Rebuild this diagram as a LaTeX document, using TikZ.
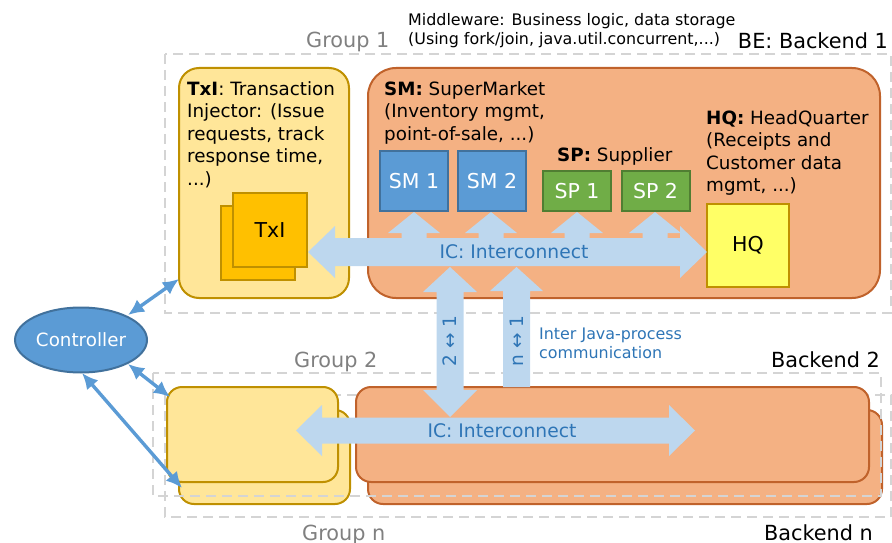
\documentclass[tikz,border=0pt]{standalone}
\usepackage{fontspec}
\setmainfont{DejaVu Sans}
\usetikzlibrary{arrows.meta,shapes.geometric}

\definecolor{orangeF}{HTML}{F4B183}
\definecolor{orangeD}{HTML}{C0622B}
\definecolor{yellowF}{HTML}{FFE699}
\definecolor{yellowD}{HTML}{BF9000}
\definecolor{goldF}{HTML}{FFC000}
\definecolor{blueF}{HTML}{5B9BD5}
\definecolor{blueD}{HTML}{41719C}
\definecolor{greenF}{HTML}{70AD47}
\definecolor{greenD}{HTML}{507E32}
\definecolor{hqF}{HTML}{FFFF66}
\definecolor{icF}{HTML}{BDD7EE}
\definecolor{icT}{HTML}{2E75B6}
\definecolor{dashC}{HTML}{D4D4D4}
\definecolor{grpT}{HTML}{808080}

\newcommand\fsdesc{\fontsize{18.3}{22.5}\selectfont}
\newcommand\fslabel{\fontsize{20.5}{24}\selectfont}
\newcommand\fsbig{\fontsize{20.8}{24}\selectfont}
\newcommand\fsic{\fontsize{18.7}{22}\selectfont}
\newcommand\fssmall{\fontsize{15.9}{19}\selectfont}

\begin{document}
\begin{tikzpicture}[x=1pt,y=-1pt,
  groupbox/.style={draw=dashC,line width=2.2pt,dash pattern=on 10pt off 6pt},
  bebox/.style={draw=orangeD,fill=orangeF,line width=2pt,rounded corners=28pt},
  txibox/.style={draw=yellowD,fill=yellowF,line width=2pt,rounded corners=20pt},
  bebox2/.style={draw=orangeD,fill=orangeF,line width=2pt,rounded corners=15pt},
  txibox2/.style={draw=yellowD,fill=yellowF,line width=2pt,rounded corners=15pt},
  txisq/.style={draw=yellowD,fill=goldF,line width=2pt,minimum width=74,minimum height=74,inner sep=0},
  smbox/.style={draw=blueD,fill=blueF,line width=2pt,minimum width=68,minimum height=60,inner sep=0,text=white,font=\fslabel},
  spbox/.style={draw=greenD,fill=greenF,line width=2pt,minimum width=68,minimum height=40,inner sep=0,text=white,font=\fslabel},
  hqbox/.style={draw=yellowD,fill=hqF,line width=2pt,minimum width=82,minimum height=83,inner sep=0,font=\fslabel},
  desc/.style={font=\fsdesc,align=left,anchor=base west,inner sep=0},
  grouplbl/.style={font=\fsbig,text=grpT,anchor=base west,inner sep=0},
  belbl/.style={font=\fsbig,anchor=base east,inner sep=0},
  icarrow/.style={fill=icF},
  iclbl/.style={font=\fsic,text=icT,inner sep=0},
  ctrlarrow/.style={draw=blueF,line width=3.4pt,{Latex[length=16pt,width=15pt]}-{Latex[length=16pt,width=15pt]}}
]
\useasboundingbox (0,0) rectangle (892,543);

% dashed group frames behind the processes
\draw[groupbox] (165,54) rectangle (891,313);
\draw[groupbox] (165,395) rectangle (891,517);

% Backend n / Group n (stacked behind)
\node[txibox2,minimum width=171,minimum height=94] (txin) at (264.5,457) {};
\node[bebox2,minimum width=514,minimum height=94] (ben) at (625,457) {};
\draw[groupbox] (153,373) rectangle (881,496);

% Backend 2 / Group 2
\node[txibox2,minimum width=171,minimum height=95] (txi2) at (252.5,434.5) {};
\node[bebox2,minimum width=513,minimum height=95] (be2) at (612.5,434.5) {};

% Group 1
\node[txibox,minimum width=170,minimum height=230] (txi1) at (264,183) {};
\node[bebox,minimum width=512,minimum height=230] (be1) at (624,183) {};

\node[txisq] (txiback) at (258,243) {};
\node[txisq,font=\fslabel] (txifront) at (270,230) {TxI};

\node[smbox] (sm1) at (414,181) {SM 1};
\node[smbox] (sm2) at (492,181) {SM 2};
\node[spbox] (sp1) at (577,191) {SP 1};
\node[spbox] (sp2) at (655.5,191) {SP 2};
\node[hqbox] (hq) at (748,245.5) {HQ};

% descriptions (anchored at the baseline of their last line)
\node[desc] (txidesc) at (187,185) {\textbf{TxI}: Transaction\\Injector: (Issue\\requests, track\\response time,\\...)};
\node[desc] (smdesc) at (384,140) {\textbf{SM:} SuperMarket\\(Inventory mgmt,\\point-of-sale, ...)};
\node[desc] (spdesc) at (557,161) {\textbf{SP:} Supplier};
\node[desc] (hqdesc) at (706,191.5) {\textbf{HQ:} HeadQuarter\\(Receipts and\\Customer data\\mgmt, ...)};

% interconnect of backend 1
\fill[icarrow] (308,252) -- (335,226) -- (335,238) -- (680,238) -- (680,226)
  -- (707,252) -- (680,278) -- (680,266) -- (335,266) -- (335,278) -- cycle;
\foreach \cx in {414,491,577,655} {
  \fill[icarrow] (\cx,212) -- (\cx+26,233) -- (\cx+12.5,233) -- (\cx+12.5,240)
    -- (\cx-12.5,240) -- (\cx-12.5,233) -- (\cx-26,233) -- cycle;
}
\node[iclbl] (ic1) at (514,252) {IC: Interconnect};

% interconnect of backend 2
\fill[icarrow] (296,430.5) -- (322,405) -- (322,417.5) -- (669,417.5) -- (669,405)
  -- (695,430.5) -- (669,456) -- (669,443.5) -- (322,443.5) -- (322,456) -- cycle;
\node[iclbl] (ic2) at (502,431) {IC: Interconnect};

% inter-process links
\fill[icarrow] (450,267) -- (477,292) -- (463.5,292) -- (463.5,390) -- (477,390)
  -- (450,417) -- (423,390) -- (436.5,390) -- (436.5,292) -- (423,292) -- cycle;
\fill[icarrow] (516.5,267) -- (543,291) -- (530,291) -- (530,387)
  -- (503,387) -- (503,291) -- (490,291) -- cycle;
\node[iclbl,rotate=90,font=\fontsize{18.5}{22}\selectfont] (l21) at (450,341) {2 ↔ 1};
\node[iclbl,rotate=90,font=\fontsize{18.5}{22}\selectfont] (ln1) at (516.5,341) {n ↔ 1};
\node[font=\fssmall,text=icT,align=left,anchor=base west,inner sep=0] (ipc) at (539,358) {Inter Java-process\\communication};

% labels
\node[font=\fssmall,align=left,anchor=base west,inner sep=0] (mw) at (408,45) {Middleware: Business logic, data storage\\(Using fork/join, java.util.concurrent,...)};
\node[grouplbl] (g1) at (306,48) {Group 1};
\node[grouplbl] (g2) at (294,367) {Group 2};
\node[grouplbl] (gn) at (302,540) {Group n};
\node[belbl] (b1) at (888,49) {BE: Backend 1};
\node[belbl] (b2) at (880,367) {Backend 2};
\node[belbl] (bn) at (873,540) {Backend n};

% controller
\node[ellipse,draw=blueD,fill=blueF,line width=2pt,minimum width=132,minimum height=65,
  text=white,font=\fsdesc,inner sep=0] (ctrl) at (81,340) {Controller};
\coordinate (c1a) at (128,315);
\coordinate (c1b) at (179,279);
\coordinate (c2a) at (128,364);
\coordinate (c2b) at (170,397);
\coordinate (c3a) at (82,373);
\coordinate (c3b) at (182,488);
\draw[ctrlarrow] (c1a) -- (c1b);
\draw[ctrlarrow] (c2a) -- (c2b);
\draw[ctrlarrow] (c3a) -- (c3b);
\end{tikzpicture}
\end{document}
